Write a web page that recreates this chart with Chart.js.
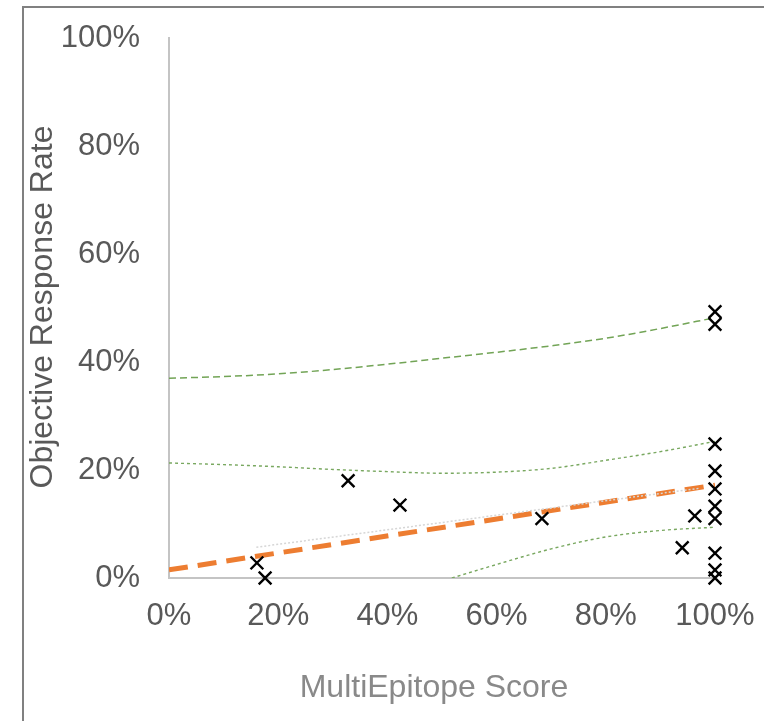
<!DOCTYPE html>
<html>
<head>
<meta charset="utf-8">
<script src="https://cdn.jsdelivr.net/npm/chart.js@4.4.1/dist/chart.umd.min.js"></script>
<style>
  html, body { margin: 0; padding: 0; background: #fff; }
  canvas { display: block; }
</style>
</head>
<body>
<canvas id="chart" width="764" height="721"></canvas>
<script>
// Observed studies: MultiEpitope score (%) vs objective response rate (%)
const scoreX    = [16.1, 17.6, 32.8, 42.3, 68.3, 94.0, 96.3, 100, 100, 100, 100, 100, 100, 100, 100, 100, 100];
const responseY = [2.8, 0.0, 18.0, 13.5, 11.0, 5.6, 11.5, 49.3, 47.0, 24.8, 19.8, 16.5, 13.3, 11.0, 4.6, 1.5, 0.0];

// Linear fit
const trendX = [0, 100];
const trendY = [1.5, 17.2];

// Faint dotted reference fit
const refX = [16, 97];
const refY = [5.7, 16.6];

// Interval curves
const bandX      = [0, 10, 20, 30, 40, 50, 60, 70, 80, 90, 100];
const outerUpper = [37.0, 37.3, 37.8, 38.6, 39.6, 40.7, 41.8, 43.0, 44.4, 46.2, 48.2];
const ciUpper    = [21.3, 21.0, 20.6, 20.1, 19.7, 19.4, 19.6, 20.3, 21.8, 23.4, 25.3];
const ciLowerX   = [51.8, 56, 60, 65, 70, 80, 90, 100];
const ciLower    = [0.0, 1.3, 2.5, 4.0, 5.4, 7.6, 8.8, 9.4];

// Tick labels
const xTicks = [0, 20, 40, 60, 80, 100];
const yTicks = [0, 20, 40, 60, 80, 100];

const FONT = "'Liberation Sans', Arial, sans-serif";
const pts = (xs, ys) => xs.map((x, i) => ({ x, y: ys[i] }));

const framePlugin = {
  id: 'frame',
  beforeDraw(chart) {
    const ctx = chart.ctx;
    ctx.save();
    ctx.fillStyle = '#ffffff';
    ctx.fillRect(0, 0, chart.width, chart.height);
    ctx.strokeStyle = '#808080';
    ctx.lineWidth = 2;
    ctx.beginPath();
    ctx.moveTo(23, chart.height);
    ctx.lineTo(23, 7);
    ctx.lineTo(chart.width, 7);
    ctx.stroke();
    ctx.restore();
  },
  afterDraw(chart) {
    const ctx = chart.ctx;
    ctx.save();
    ctx.font = '32px ' + FONT;
    ctx.textAlign = 'center';
    ctx.textBaseline = 'middle';
    ctx.fillStyle = '#595959';
    ctx.translate(43, 307);
    ctx.rotate(-Math.PI / 2);
    ctx.fillText('Objective Response Rate', 0, 0);
    ctx.restore();

    ctx.save();
    ctx.font = '32px ' + FONT;
    ctx.textAlign = 'center';
    ctx.textBaseline = 'middle';
    ctx.fillStyle = '#898989';
    ctx.fillText('MultiEpitope Score', 434, 688);
    ctx.restore();
  }
};

new Chart(document.getElementById('chart'), {
  data: {
    datasets: [
      {
        type: 'scatter',
        data: pts(scoreX, responseY),
        pointStyle: 'crossRot',
        radius: 9,
        borderWidth: 2.4,
        borderColor: '#000000',
        backgroundColor: '#000000',
        clip: false,
        order: 0
      },
      {
        type: 'line',
        data: pts(refX, refY),
        borderColor: '#d6d6d6',
        borderWidth: 1.5,
        borderDash: [2, 2],
        pointRadius: 0,
        order: 1
      },
      {
        type: 'line',
        data: pts(trendX, trendY),
        borderColor: '#ED7D31',
        borderWidth: 5,
        borderDash: [19, 10],
        pointRadius: 0,
        order: 2
      },
      {
        type: 'line',
        data: pts(bandX, outerUpper),
        borderColor: '#72a456',
        borderWidth: 1.5,
        borderDash: [7, 4],
        pointRadius: 0,
        cubicInterpolationMode: 'monotone',
        order: 3
      },
      {
        type: 'line',
        data: pts(bandX, ciUpper),
        borderColor: '#79a860',
        borderWidth: 1.4,
        borderDash: [3, 3],
        pointRadius: 0,
        cubicInterpolationMode: 'monotone',
        order: 3
      },
      {
        type: 'line',
        data: pts(ciLowerX, ciLower),
        borderColor: '#79a860',
        borderWidth: 1.4,
        borderDash: [3, 3],
        pointRadius: 0,
        cubicInterpolationMode: 'monotone',
        order: 3
      }
    ]
  },
  options: {
    responsive: false,
    animation: false,
    devicePixelRatio: 1,
    layout: { padding: { top: 38, right: 49, left: 0, bottom: 0 } },
    plugins: { legend: { display: false }, tooltip: { enabled: false } },
    scales: {
      x: {
        type: 'linear',
        min: 0,
        max: 100,
        afterBuildTicks: s => { s.ticks = xTicks.map(v => ({ value: v })); },
        afterFit: s => { s.height = 143; s.paddingLeft = 0; s.paddingRight = 0; },
        grid: { display: false, drawTicks: false },
        border: { display: true, color: '#c4c4c4', width: 2 },
        ticks: {
          callback: v => v + '%',
          color: '#595959',
          font: { family: FONT, size: 31 },
          padding: 20,
          maxRotation: 0,
          autoSkip: false
        }
      },
      y: {
        type: 'linear',
        min: 0,
        max: 100,
        afterBuildTicks: s => { s.ticks = yTicks.map(v => ({ value: v })); },
        afterFit: s => { s.width = 169; s.paddingTop = 0; s.paddingBottom = 0; },
        grid: { display: false, drawTicks: false },
        border: { display: true, color: '#c4c4c4', width: 2 },
        ticks: {
          callback: v => v + '%',
          color: '#595959',
          font: { family: FONT, size: 31 },
          padding: 29,
          autoSkip: false
        }
      }
    }
  },
  plugins: [framePlugin]
});
</script>
</body>
</html>
